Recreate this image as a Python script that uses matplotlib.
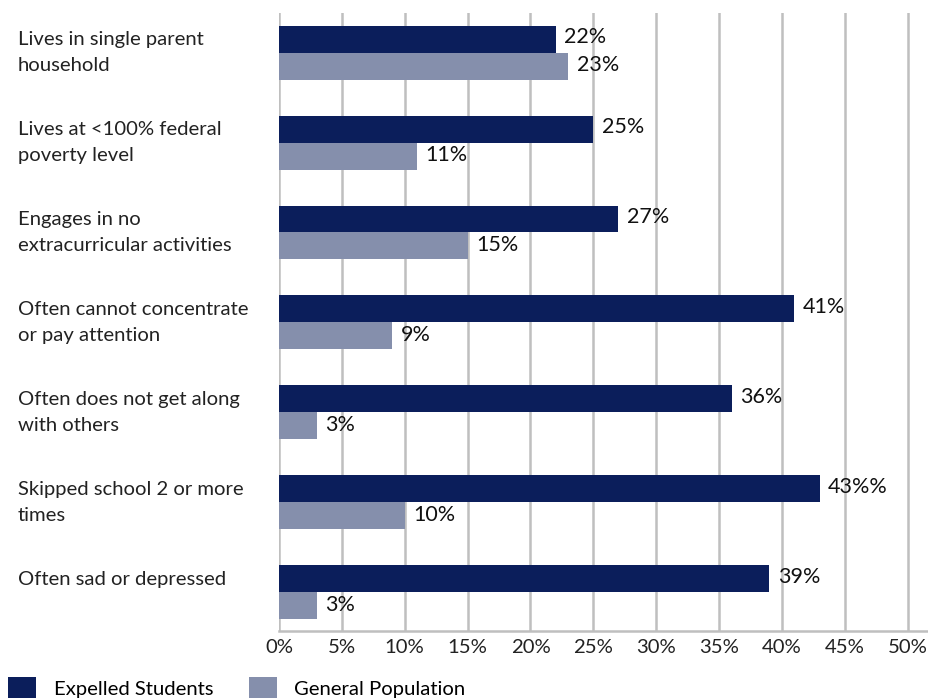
import matplotlib
matplotlib.use("Agg")
import matplotlib.pyplot as plt
from matplotlib.patches import Patch
import matplotlib.transforms as mtransforms
import numpy as np

plt.rcParams['font.family'] = ['Lato', 'DejaVu Sans']

categories = [
    "Lives in single parent\nhousehold",
    "Lives at <100% federal\npoverty level",
    "Engages in no\nextracurricular activities",
    "Often cannot concentrate\nor pay attention",
    "Often does not get along\nwith others",
    "Skipped school 2 or more\ntimes",
    "Often sad or depressed\n",
]
expelled = [22, 25, 27, 41, 36, 43, 39]
general = [23, 11, 15, 9, 3, 10, 3]
expelled_labels = ["22%", "25%", "27%", "41%", "36%", "43%%", "39%"]
general_labels = ["23%", "11%", "15%", "9%", "3%", "10%", "3%"]
x_ticks = [0, 5, 10, 15, 20, 25, 30, 35, 40, 45, 50]
series_names = ["Expelled Students", "General Population"]

c_exp = "#0b1e5b"
c_gen = "#858fac"
grid_c = "#bfbfbf"

W, H = 929, 698
fig = plt.figure(figsize=(W / 100, H / 100), dpi=100)
ax = fig.add_axes([279 / W, 67 / H, 650 / W, 618 / H])

y = np.arange(len(categories))
bh = 0.30
ax.barh(y - bh / 2, expelled, height=bh, color=c_exp, zorder=3)
ax.barh(y + bh / 2, general, height=bh, color=c_gen, zorder=3)

fs = 14.6
vfs = 15.5
for yi, v, lab in zip(y, expelled, expelled_labels):
    ax.annotate(lab, (v, yi - bh / 2), xytext=(6, 1.5), textcoords="offset points",
                va="center", ha="left", fontsize=vfs, color="#111111")
for yi, v, lab in zip(y, general, general_labels):
    ax.annotate(lab, (v, yi + bh / 2), xytext=(6, 0.5), textcoords="offset points",
                va="center", ha="left", fontsize=vfs, color="#111111")

ax.set_xlim(0, 51.7)
ax.set_ylim(6.43, -0.44)
ax.set_xticks(x_ticks)
ax.set_xticklabels([f"{t}%" for t in x_ticks], fontsize=fs, color="#222222")
ax.set_yticks(y)
ax.set_yticklabels(categories, fontsize=fs, color="#222222", linespacing=1.65)
shift = mtransforms.ScaledTranslation(0, 1 / 72, fig.dpi_scale_trans)
for t in ax.get_yticklabels():
    t.set_horizontalalignment("left")
    t.set_verticalalignment("center")
    t.set_transform(t.get_transform() + shift)
ax.tick_params(axis="y", length=0, pad=261 * 0.72)
ax.tick_params(axis="x", length=0, pad=6)

for xv in x_ticks:
    ax.axvline(xv, color=grid_c, lw=1.8, zorder=1)
for s in ["top", "right", "left"]:
    ax.spines[s].set_visible(False)
ax.spines["bottom"].set_color(grid_c)
ax.spines["bottom"].set_linewidth(1.8)

handles = [Patch(facecolor=c_exp), Patch(facecolor=c_gen)]
fig.legend(handles, series_names, loc="center left",
           bbox_to_anchor=(8 / W, 1 - 688 / H), ncol=2, frameon=False,
           fontsize=fs, handlelength=1.4, handleheight=1.3,
           handletextpad=0.85, columnspacing=1.75, borderpad=0, borderaxespad=0)

fig.savefig("out.png", dpi=100, facecolor="white")
